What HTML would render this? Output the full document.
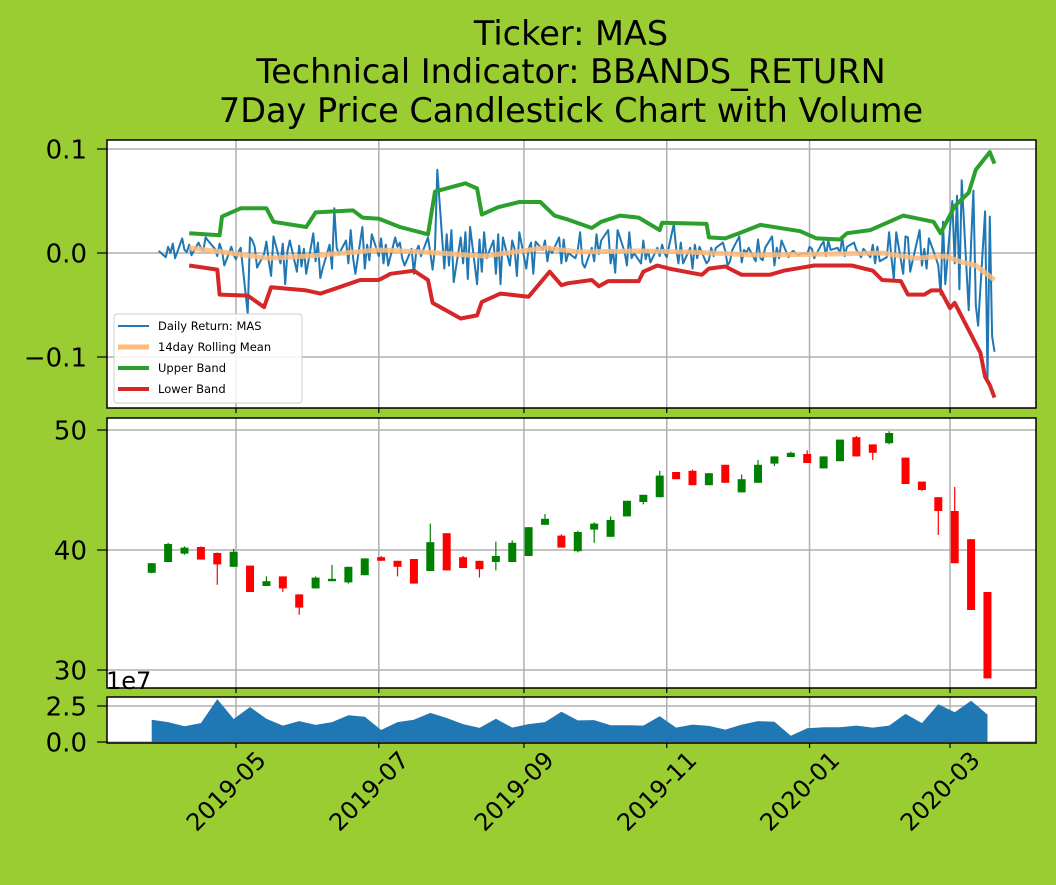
<!DOCTYPE html>
<html><head><meta charset="utf-8"><style>
html,body{margin:0;padding:0;background:#9acd32;}
svg{display:block;font-family:"DejaVu Sans","Liberation Sans",sans-serif;}
</style></head><body>
<svg id="chart" width="1056" height="885" viewBox="0 0 1056 885" xmlns="http://www.w3.org/2000/svg">
<rect x="0" y="0" width="1056" height="885" fill="#9acd32"/>
<g font-size="33.5" text-anchor="middle" fill="#000">
<text x="571" y="45">Ticker: MAS</text>
<text x="571" y="83">Technical Indicator: BBANDS_RETURN</text>
<text x="571" y="122">7Day Price Candlestick Chart with Volume</text>
</g>
<rect x="107" y="140" width="929" height="268" fill="#fff"/>
<rect x="107" y="418" width="929" height="270" fill="#fff"/>
<rect x="107" y="697" width="929" height="46" fill="#fff"/>
<g id="grid"></g>
<g id="marks"></g>
<g id="frames"></g>
<g id="labels"></g>
</svg>
<script>
// ---- data ----
const returns = [0.002,-0.004,0.006,0.000,0.009,
-0.005,0.014,0.003,0.001,
0.008,-0.002,0.010,0.005,0.002,0.015,0.012,0.004,-0.003,0.009,0.002,-0.012,0.006,-0.002,-0.006,0.001,0.005,-0.058,0.015,0.012,0.006,
-0.014,-0.001,0.011,-0.008,-0.022,0.016,-0.010,0.009,-0.030,0.002,0.012,-0.018,0.007,-0.013,0.004,-0.020,0.019,-0.008,0.010,-0.024,-0.015,0.008,
-0.015,0.043,0.005,-0.001,0.012,-0.010,0.022,-0.005,-0.020,0.025,-0.015,0.008,-0.007,0.018,-0.003,0.014,-0.010,0.008,-0.012,0.015,
0.006,0.010,-0.005,-0.012,0.004,-0.020,0.002,0.007,-0.003,0.015,0.000,-0.016,0.005,0.080,-0.015,0.018,-0.012,0.022,-0.028,0.015,-0.010,0.020,
-0.025,0.025,-0.030,0.013,-0.018,0.020,-0.005,0.012,-0.020,0.018,-0.030,0.015,-0.012,0.012,0.004,-0.022,0.020,-0.015,0.004,0.010,-0.020,0.011,
0.003,0.012,-0.008,0.006,0.000,0.015,-0.010,0.013,-0.008,0.000,-0.005,0.003,0.020,-0.010,-0.014,0.005,-0.008,0.018,-0.001,0.012,
0.022,-0.010,0.003,-0.019,0.022,0.001,-0.012,0.020,-0.005,0.000,-0.010,0.012,-0.006,0.003,-0.009,0.005,-0.003,0.008,0.000,-0.004,0.028,0.005,-0.010,
0.010,-0.010,0.005,-0.015,0.008,-0.005,0.006,-0.010,-0.007,0.005,-0.003,0.005,0.010,0.002,-0.012,-0.008,0.003,0.016,-0.009,0.003,0.000,
0.005,-0.008,0.013,-0.005,-0.007,0.005,0.016,-0.012,0.005,-0.005,0.012,-0.004,0.000,0.002,0.000,-0.002,0.000,-0.001,0.006,0.004,-0.005,
0.008,0.011,-0.003,0.012,0.003,0.005,0.000,0.015,-0.003,0.006,0.010,0.003,0.000,-0.004,0.004,-0.004,0.008,-0.010,0.006,-0.008,-0.004,
0.020,-0.005,-0.025,0.020,-0.020,0.016,0.015,-0.018,-0.008,0.022,-0.012,0.004,-0.015,0.014,-0.005,-0.012,-0.040,0.030,-0.030,
0.050,-0.010,0.055,-0.035,0.070,-0.055,0.010,0.060,-0.050,-0.070,0.040,-0.120,0.035,-0.080,-0.095];
const returnsEnd = "2020-03-20";

const upperDates = ["2019-04-11","2019-04-24","2019-04-25","2019-05-03","2019-05-14","2019-05-17","2019-05-31","2019-06-04","2019-06-20","2019-06-24","2019-07-01","2019-07-10","2019-07-22","2019-07-25","2019-08-07","2019-08-12","2019-08-14","2019-08-21","2019-08-30","2019-09-08","2019-09-14","2019-09-20","2019-09-30","2019-10-04","2019-10-12","2019-10-20","2019-10-29","2019-10-30","2019-11-18","2019-11-19","2019-11-26","2019-12-03","2019-12-11","2019-12-28","2020-01-04","2020-01-14","2020-01-17","2020-01-27","2020-02-10","2020-02-23","2020-02-26","2020-03-03","2020-03-09","2020-03-12","2020-03-18","2020-03-20"];
const upperVals = [0.019,0.017,0.035,0.043,0.043,0.030,0.025,0.039,0.041,0.034,0.033,0.025,0.018,0.059,0.067,0.062,0.037,0.044,0.049,0.049,0.036,0.032,0.024,0.030,0.036,0.034,0.022,0.029,0.028,0.015,0.014,0.020,0.027,0.021,0.014,0.013,0.019,0.022,0.036,0.030,0.019,0.045,0.058,0.080,0.097,0.086];

const lowerDates = ["2019-04-11","2019-04-23","2019-04-24","2019-05-06","2019-05-13","2019-05-16","2019-05-31","2019-06-06","2019-06-14","2019-06-23","2019-07-01","2019-07-06","2019-07-16","2019-07-22","2019-07-24","2019-08-05","2019-08-12","2019-08-14","2019-08-22","2019-09-03","2019-09-12","2019-09-17","2019-09-20","2019-09-30","2019-10-03","2019-10-07","2019-10-20","2019-10-22","2019-10-28","2019-11-02","2019-11-16","2019-11-19","2019-11-26","2019-12-03","2019-12-15","2019-12-21","2020-01-03","2020-01-19","2020-01-28","2020-02-01","2020-02-09","2020-02-12","2020-02-19","2020-02-22","2020-02-26","2020-03-01","2020-03-03","2020-03-09","2020-03-14","2020-03-16","2020-03-18","2020-03-20"];
const lowerVals = [-0.012,-0.016,-0.040,-0.041,-0.052,-0.033,-0.036,-0.039,-0.033,-0.026,-0.026,-0.020,-0.017,-0.026,-0.048,-0.063,-0.060,-0.047,-0.039,-0.042,-0.018,-0.031,-0.029,-0.026,-0.032,-0.027,-0.027,-0.018,-0.012,-0.015,-0.021,-0.015,-0.013,-0.021,-0.021,-0.017,-0.012,-0.012,-0.017,-0.026,-0.027,-0.040,-0.040,-0.036,-0.036,-0.053,-0.048,-0.074,-0.096,-0.119,-0.127,-0.139];

const meanDates = ["2019-04-11","2019-04-25","2019-05-15","2019-06-01","2019-07-01","2019-07-20","2019-08-15","2019-09-10","2019-09-25","2019-10-20","2019-11-10","2019-12-10","2020-01-10","2020-02-01","2020-02-15","2020-02-28","2020-03-05","2020-03-12","2020-03-20"];
const meanVals = [0.005,0.001,-0.005,-0.003,0.003,0.001,-0.003,0.005,0.001,0.002,0.001,-0.002,-0.001,0.000,-0.005,-0.003,-0.008,-0.012,-0.026];

const candleStart = "2019-03-26";
const opens  = [38.1,39.0,39.7,40.25,39.75,38.6,38.7,37.0,37.8,36.3,36.8,37.4,37.3,37.9,39.4,39.1,39.25,38.25,41.4,39.4,39.1,39.0,39.0,39.5,42.1,41.2,39.9,41.7,41.1,42.8,44.0,44.4,46.5,46.6,45.4,47.1,44.8,45.6,47.2,47.75,48.0,46.8,47.4,49.4,48.8,48.9,47.7,45.7,44.4,43.25,40.9,36.5];
const closes = [38.9,40.5,40.2,39.2,38.8,39.85,36.5,37.4,36.8,35.2,37.7,37.6,38.6,39.3,39.1,38.6,37.2,40.65,38.3,38.5,38.4,39.5,40.6,41.9,42.6,40.2,41.5,42.2,42.5,44.1,44.6,46.2,45.9,45.4,46.4,45.6,45.9,47.1,47.8,48.1,47.25,47.8,49.2,47.8,48.1,49.75,45.5,45.0,43.25,38.9,35.0,29.3];
const highs  = [38.9,40.6,40.3,40.3,39.8,40.1,38.7,37.8,37.8,36.3,37.8,38.75,38.6,39.3,39.5,39.1,39.25,42.2,41.4,39.5,39.1,40.7,40.8,41.9,43.0,41.3,41.6,42.3,42.8,44.1,44.6,46.6,46.5,46.7,46.4,47.1,46.3,47.5,47.8,48.2,48.3,47.8,49.2,49.5,48.8,49.9,47.7,45.7,44.4,45.25,40.9,36.5];
const lows   = [38.05,39.0,39.6,39.2,37.1,38.6,36.5,37.0,36.5,34.6,36.8,37.4,37.2,37.9,39.1,37.8,37.2,38.25,38.3,38.5,37.7,38.3,39.0,39.5,42.1,40.2,39.8,40.6,41.1,42.8,43.8,44.4,45.9,45.4,45.4,45.6,44.8,45.6,47.0,47.75,47.25,46.8,47.4,47.8,47.5,48.8,45.5,44.9,41.25,38.9,35.0,29.3];
const volumes = [1.55,1.38,1.10,1.31,2.98,1.60,2.43,1.62,1.14,1.45,1.19,1.38,1.86,1.76,0.83,1.38,1.55,2.02,1.67,1.24,0.98,1.62,1.00,1.24,1.38,2.10,1.50,1.52,1.17,1.17,1.14,1.79,1.00,1.21,1.12,0.86,1.21,1.45,1.40,0.43,0.95,1.02,1.02,1.14,1.00,1.14,1.95,1.31,2.62,2.07,2.86,1.90];

const retTicks = [0.1,0.0,-0.1];
const retTickLabels = ["0.1","0.0","\u22120.1"];
const priceTicks = [50,40,30];
const priceTickLabels = ["50","40","30"];
const volTicks = [2.5,0.0];
const volTickLabels = ["2.5","0.0"];
const dateTicks = ["2019-05-01","2019-07-01","2019-09-01","2019-11-01","2020-01-01","2020-03-01"];
const dateTickLabels = ["2019-05","2019-07","2019-09","2019-11","2020-01","2020-03"];

// ---- scales ----
const NS="http://www.w3.org/2000/svg";
const DAY=86400000, ORIGIN=Date.UTC(2019,4,1);
function dnum(s){const p=s.split("-");return (Date.UTC(+p[0],+p[1]-1,+p[2])-ORIGIN)/DAY;}
function xDay(d){return 236+d*2.341;}
function xDate(s){return xDay(dnum(s));}
function yRet(v){return 253-v*1040;}
function yPrice(v){return 430+(50-v)*12;}
function yVol(v){return 742-v*14.4;}
function mk(tag,attrs,parent){const e=document.createElementNS(NS,tag);for(const k in attrs)e.setAttribute(k,attrs[k]);parent.appendChild(e);return e;}
const grid=document.getElementById("grid"),marks=document.getElementById("marks"),frames=document.getElementById("frames"),labels=document.getElementById("labels");
const panels=[[140,408],[418,688],[697,743]];

// grid
dateTicks.forEach(t=>{const x=xDate(t);panels.forEach(p=>{const l=mk("line",{x1:x,x2:x,y1:p[0],y2:p[1],stroke:"#b0b0b0","stroke-width":1.5},grid);

});});
retTicks.forEach(v=>{const l=mk("line",{x1:107,x2:1036,y1:yRet(v),y2:yRet(v),stroke:"#b0b0b0","stroke-width":1.5},grid);

});
priceTicks.forEach(v=>{const l=mk("line",{x1:107,x2:1036,y1:yPrice(v),y2:yPrice(v),stroke:"#b0b0b0","stroke-width":1.5},grid);

});
volTicks.forEach(v=>{const l=mk("line",{x1:107,x2:1036,y1:yVol(v),y2:yVol(v),stroke:"#b0b0b0","stroke-width":1.5},grid);

});

// returns dates: weekdays counting back from end
const retDays=[];{let d=dnum(returnsEnd);while(retDays.length<returns.length){const wd=new Date(ORIGIN+d*DAY).getUTCDay();if(wd!==0&&wd!==6)retDays.unshift(d);d--;}}
function poly(pts,stroke,w,name,op){const e=mk("polyline",{points:pts.map(p=>p[0].toFixed(1)+","+p[1].toFixed(1)).join(" "),fill:"none",stroke:stroke,"stroke-width":w,"stroke-linejoin":"round","stroke-opacity":op||1},marks);

return e;}
poly(returns.map((v,i)=>[xDay(retDays[i]),yRet(v)]),"#1f77b4",2,"daily-return-line");
poly(meanDates.map((s,i)=>[xDate(s),yRet(meanVals[i])]),"#ffbb78",5,"rolling-mean-line",0.85);
poly(upperDates.map((s,i)=>[xDate(s),yRet(upperVals[i])]),"#2ca02c",4,"upper-band-line");
poly(lowerDates.map((s,i)=>[xDate(s),yRet(lowerVals[i])]),"#d62728",4,"lower-band-line");

// candles
const c0=dnum(candleStart);
opens.forEach((o,i)=>{const x=xDay(c0+7*i),c=closes[i],col=c>=o?"#008000":"#ff0000";
const w=mk("line",{x1:x,x2:x,y1:yPrice(highs[i]),y2:yPrice(lows[i]),stroke:col,"stroke-width":1.2},marks);


const top=yPrice(Math.max(o,c)),bot=yPrice(Math.min(o,c));
const b=mk("rect",{x:x-4,y:top,width:8,height:Math.max(1,bot-top),fill:col},marks);

});

// volume area
{const pts=volumes.map((v,i)=>[xDay(c0+7*i),yVol(v)]);
const d="M"+pts[0][0]+","+yVol(0)+" "+pts.map(p=>"L"+p[0].toFixed(1)+","+p[1].toFixed(1)).join(" ")+" L"+pts[pts.length-1][0]+","+yVol(0)+"Z";
const a=mk("path",{d:d,fill:"#1f77b4"},marks);

}

// frames and ticks
panels.forEach(p=>{const r=mk("rect",{x:107,y:p[0],width:929,height:p[1]-p[0],fill:"none",stroke:"#000","stroke-width":1.5},frames);


dateTicks.forEach(t=>{const x=xDate(t);const tk=mk("line",{x1:x,x2:x,y1:p[1],y2:p[1]+5,stroke:"#000","stroke-width":1.2},frames);

});});
function yTicks(vals,labs,fn){vals.forEach((v,i)=>{const y=fn(v);
const tk=mk("line",{x1:97,x2:107,y1:y,y2:y,stroke:"#000","stroke-width":1.2},frames);


const t=mk("text",{x:87,y:y+9.5,"text-anchor":"end","font-size":26},labels);t.textContent=labs[i];

});}
yTicks(retTicks,retTickLabels,yRet);
yTicks(priceTicks,priceTickLabels,yPrice);
yTicks(volTicks,volTickLabels,yVol);
dateTicks.forEach((t,i)=>{const x=xDate(t);
const tx=mk("text",{transform:"translate("+(x-10)+",791) rotate(-45)","text-anchor":"middle","font-size":24,"y":8.5},labels);tx.textContent=dateTickLabels[i];

});
{const t=mk("text",{x:106,y:689,"font-size":24},labels);t.textContent="1e7";

}

// legend
{const g=mk("g",{},labels);


const bx=mk("rect",{x:114,y:314,width:188,height:89,rx:3,fill:"#fff","fill-opacity":0.85,stroke:"#cccccc","stroke-width":1},g);


const items=[["Daily Return: MAS","#1f77b4",2],["14day Rolling Mean","#ffbb78",5],["Upper Band","#2ca02c",4],["Lower Band","#d62728",4]];
items.forEach((it,i)=>{const y=326+i*21;
const ln=mk("line",{x1:118,x2:149,y1:y,y2:y,stroke:it[1],"stroke-width":it[2]},g);


const t=mk("text",{x:158,y:y+4,"font-size":11.5},g);t.textContent=it[0];

});}
</script>
</body></html>
